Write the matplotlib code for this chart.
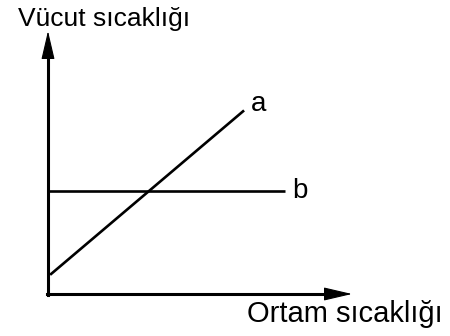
import matplotlib
matplotlib.use('Agg')
import matplotlib.pyplot as plt

plt.rcParams['font.family'] = ['Liberation Sans', 'DejaVu Sans']

# line a rises with ambient temp, line b stays constant
a_x = [0.07, 6.45]
a_y = [0.73, 6.98]
b_x = [0.0, 7.8]
b_y = [3.93, 3.93]

y_title = 'Vücut sıcaklığı'
x_title = 'Ortam sıcaklığı'

fig = plt.figure(figsize=(4.5, 3.36), dpi=100)
# axes box spans origin (48,294) to arrow tips (352,31) in pixels
ax = fig.add_axes([48/450, 1-294/336, 304/450, 263/336])
ax.set_xlim(0, 10)
ax.set_ylim(0, 10)
ax.axis('off')

ax.plot(a_x, a_y, color='black', lw=1.9, solid_capstyle='butt')
ax.plot(b_x, b_y, color='black', lw=1.9, solid_capstyle='butt')

# axis shafts
ax.plot([0, 0], [-0.05, 9.2], color='black', lw=2.2, transform=ax.transData, clip_on=False)
ax.plot([-0.03, 9.3], [0, 0], color='black', lw=2.2, clip_on=False)
# arrow heads
head = dict(arrowstyle='-|>,head_length=1.8,head_width=0.42', mutation_scale=10,
            lw=0.8, color='black', shrinkA=0, shrinkB=0)
ax.annotate('', xy=(0, 1), xytext=(0, 0.9), xycoords='axes fraction', arrowprops=head)
ax.annotate('', xy=(1, 0), xytext=(0.9, 0), xycoords='axes fraction', arrowprops=head)

ax.text(6.68, 6.95, 'a', fontsize=20, ha='left', va='baseline')
ax.text(8.03, 3.66, 'b', fontsize=20, ha='left', va='baseline')

fig.text(18/450, 1-26/336, y_title, fontsize=19, ha='left', va='baseline')
fig.text(443/450, 1-322/336, x_title, fontsize=21, ha='right', va='baseline')

fig.savefig('out.png', dpi=100)
